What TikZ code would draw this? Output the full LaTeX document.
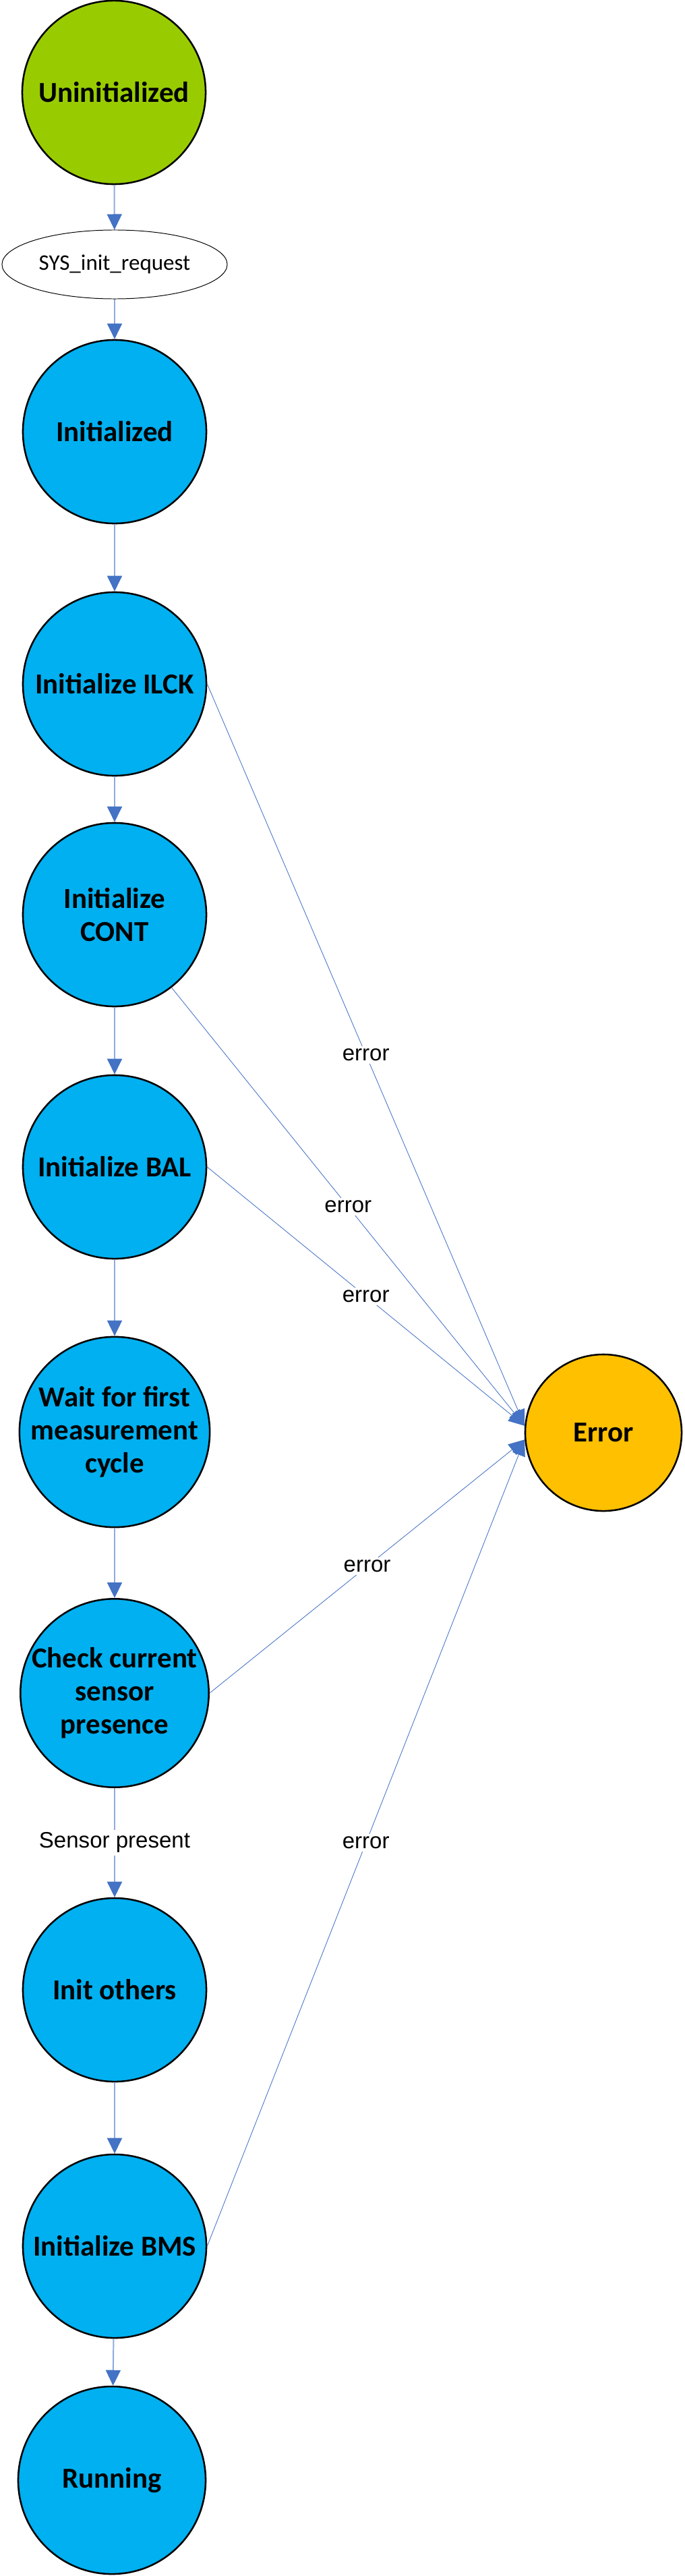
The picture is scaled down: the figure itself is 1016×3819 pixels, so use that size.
\documentclass[tikz,border=0pt]{standalone}
\usepackage{fontspec}
\setmainfont{Carlito}
\newfontfamily\labelfont{Liberation Sans}
\usetikzlibrary{arrows.meta,shapes.geometric}
\definecolor{initgreen}{HTML}{99CC00}
\definecolor{statecyan}{HTML}{00B0F0}
\definecolor{erroramber}{HTML}{FFC000}
\definecolor{edgeblue}{HTML}{4472C4}
\definecolor{edgelight}{HTML}{8FAADC}

\begin{document}
\begin{tikzpicture}[x=0.025cm,y=-0.025cm,
  state/.style={circle,draw=black,line width=1.8pt,minimum size=6.8cm,inner sep=0pt,align=center,fill=statecyan,font=\fontsize{30.5}{35}\selectfont\bfseries},
  trans/.style={draw=edgelight,line width=1.4pt,-{Triangle[length=0.575cm,width=0.55cm,color=edgeblue]}},
  fail/.style={draw=edgeblue,line width=0.6pt,-{Triangle[length=0.6cm,width=0.5cm,color=edgeblue]}},
  elabel/.style={fill=white,inner sep=3pt,font=\labelfont\fontsize{23.5}{28}\selectfont}]
\useasboundingbox (0,0) rectangle (1016,3819);
\node [state,fill=initgreen] (uninit) at (169,137) {Uninitialized};
\node [draw,ellipse,line width=0.7pt,minimum width=8.35cm,minimum height=2.55cm,inner sep=0pt,font=\fontsize{23.5}{28}\selectfont] (sysreq) at (170,392) {SYS\_init\_request};
\node [state] (init) at (170,640) {Initialized};
\node [state] (ilck) at (170,1014) {Initialize ILCK};
\node [state] (cont) at (170,1356) {Initialize\\CONT};
\node [state] (bal) at (170,1730) {Initialize BAL};
\node [state] (wait) at (170,2123) {Wait for first\\measurement\\cycle};
\node [state] (check) at (170,2510) {Check current\\sensor\\presence};
\node [state] (others) at (170,2950) {Init others};
\node [state] (bms) at (170,3330) {Initialize BMS};
\node [state,minimum size=6.95cm] (running) at (166,3677) {Running};
\node [state,fill=erroramber,minimum size=5.8cm] (error) at (895,2124) {Error};

\draw [trans] (uninit) -- (sysreq);
\draw [trans] (sysreq) -- (init);
\draw [trans] (init) -- (ilck);
\draw [trans] (ilck) -- (cont);
\draw [trans] (cont) -- (bal);
\draw [trans] (bal) -- (wait);
\draw [trans] (wait) -- (check);
\draw [trans] (check) -- node [elabel] {Sensor present} (others);
\draw [trans] (others) -- (bms);
\draw [trans] (bms) -- (running);

\draw [fail] (ilck.east) -- node [elabel] {error} (error.175);
\draw [fail] (cont.-52) -- node [elabel] {error} (error.175);
\draw [fail] (bal.east) -- node [elabel] {error} (error.175);
\draw [fail] (check.east) -- node [elabel] {error} (error.185);
\draw [fail] (bms.east) -- node [elabel] {error} (error.185);
\end{tikzpicture}
\end{document}
